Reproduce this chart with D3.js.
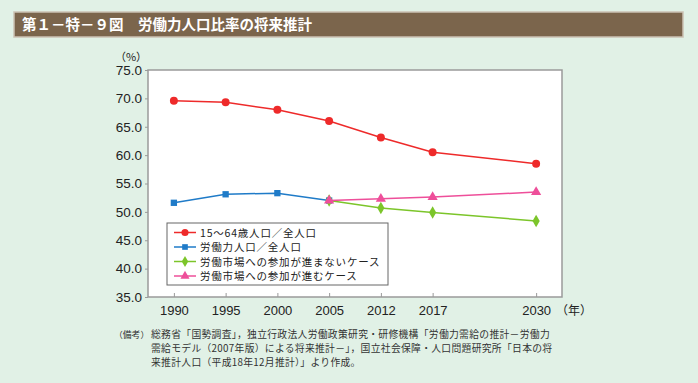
<!DOCTYPE html>
<html>
<head>
<meta charset="utf-8">
<script src="https://cdn.jsdelivr.net/npm/d3@7"></script>
<style>
  body { margin: 0; background: #e1f1e6; }
  svg { display: block; font-family: "Noto Sans CJK JP", sans-serif; }
</style>
</head>
<body>
<div id="chart"></div>
<script>
// data
const years = ["1990", "1995", "2000", "2005", "2012", "2017", "gap", "2030"];
const tickYears = ["1990", "1995", "2000", "2005", "2012", "2017", "2030"];
const yTicks = [35, 40, 45, 50, 55, 60, 65, 70, 75];

const workingAge = [
  ["1990", 69.6], ["1995", 69.3], ["2000", 68.0], ["2005", 66.0],
  ["2012", 63.1], ["2017", 60.5], ["2030", 58.5]
];
const laborForce = [["1990", 51.6], ["1995", 53.1], ["2000", 53.3], ["2005", 52.0]];
const noParticipation = [["2005", 52.0], ["2012", 50.7], ["2017", 49.9], ["2030", 48.4]];
const withParticipation = [["2005", 52.0], ["2012", 52.3], ["2017", 52.6], ["2030", 53.5]];

const seriesNames = [
  "15～64歳人口／全人口",
  "労働力人口／全人口",
  "労働市場への参加が進まないケース",
  "労働市場への参加が進むケース"
];

const notes = [
  "総務省「国勢調査」，独立行政法人労働政策研究・研修機構「労働力需給の推計－労働力",
  "需給モデル（2007年版）による将来推計－」，国立社会保障・人口問題研究所「日本の将",
  "来推計人口（平成18年12月推計）」より作成。"
];

const width = 698, height = 383;
const svg = d3.select("#chart").append("svg").attr("width", width).attr("height", height);

// title bar
svg.append("rect").attr("x", 14).attr("y", 12).attr("width", 669).attr("height", 25)
  .attr("fill", "#7b654c").attr("stroke", "#cbc2b4").attr("stroke-width", 1.5);
svg.append("text").attr("x", 22).attr("y", 30).attr("fill", "#fff")
  .attr("font-size", 14.5).attr("font-weight", "bold")
  .text("第１－特－９図　労働力人口比率の将来推計");

const plotLeft = 148, plotRight = 562, plotTop = 70, plotBottom = 297;

const x = d3.scalePoint().domain(years).range([plotLeft, plotRight]).padding(0.5);
const y = d3.scaleLinear().domain([35, 75]).range([plotBottom, plotTop]);

svg.append("rect").attr("x", plotLeft).attr("y", plotTop)
  .attr("width", plotRight - plotLeft).attr("height", plotBottom - plotTop)
  .attr("fill", "#fff").attr("stroke", "#9a9a9a").attr("stroke-width", 1.5);

const xAxis = svg.append("g").attr("transform", `translate(0,${plotBottom})`)
  .call(d3.axisBottom(x).tickValues(tickYears).tickSizeInner(-4).tickSizeOuter(0).tickPadding(9));
xAxis.select(".domain").remove();
xAxis.selectAll("line").attr("stroke", "#9a9a9a");
xAxis.selectAll("text").attr("font-family", "Liberation Sans, Arial, sans-serif")
  .attr("font-size", 13).attr("fill", "#222");

const yAxis = svg.append("g").attr("transform", `translate(${plotLeft},0)`)
  .call(d3.axisLeft(y).tickValues(yTicks).tickFormat(d3.format(".1f")).tickSize(3).tickPadding(3));
yAxis.select(".domain").remove();
yAxis.selectAll("line").attr("stroke", "#9a9a9a");
yAxis.selectAll("text").attr("font-family", "Liberation Sans, Arial, sans-serif")
  .attr("font-size", 13.5).attr("fill", "#222");

svg.append("text").attr("x", 131).attr("y", 61).attr("text-anchor", "middle")
  .attr("font-size", 11).attr("fill", "#222").text("（%）");
svg.append("text").attr("x", 556).attr("y", 315).attr("font-size", 12).attr("fill", "#222").text("（年）");

const line = d3.line().x(d => x(d[0])).y(d => y(d[1]));

const styles = [
  { data: workingAge, color: "#ee2a2a", shape: d3.symbolCircle, size: 50 },
  { data: laborForce, color: "#1f7bc8", shape: d3.symbolSquare, size: 40 },
  { data: noParticipation, color: "#7cc52a", shape: d3.symbolDiamond, size: 45 },
  { data: withParticipation, color: "#ee4f9a", shape: d3.symbolTriangle, size: 45 }
];

// blue first, then the two projections, red on top
[1, 2, 3, 0].forEach(i => {
  const s = styles[i];
  svg.append("path").datum(s.data).attr("d", line)
    .attr("fill", "none").attr("stroke", s.color).attr("stroke-width", 1.5);
  svg.selectAll(null).data(s.data).enter().append("path")
    .attr("d", d3.symbol(s.shape, s.size))
    .attr("transform", d => `translate(${x(d[0])},${y(d[1])})`)
    .attr("fill", s.color);
});

// legend
const legend = svg.append("g").attr("transform", "translate(167,223)");
legend.append("rect").attr("width", 221).attr("height", 62)
  .attr("fill", "#fff").attr("stroke", "#666").attr("stroke-width", 1);
styles.forEach((s, i) => {
  const ly = 9.5 + i * 14.5;
  legend.append("line").attr("x1", 7).attr("x2", 29).attr("y1", ly).attr("y2", ly)
    .attr("stroke", s.color).attr("stroke-width", 1.5);
  legend.append("path").attr("d", d3.symbol(s.shape, s.size * 0.8))
    .attr("transform", `translate(18,${ly})`).attr("fill", s.color);
  legend.append("text").attr("x", 33).attr("y", ly + 4)
    .attr("font-size", 10.5).attr("letter-spacing", 0.8)
    .attr("fill", "#222").text(seriesNames[i]);
});

// notes
svg.append("text").attr("x", 114).attr("y", 338).attr("font-size", 8.8)
  .attr("fill", "#333").text("（備考）");
notes.forEach((t, i) => {
  svg.append("text").attr("x", 151).attr("y", 338 + i * 14.2).attr("font-size", 9.8)
    .attr("letter-spacing", 0.3).attr("fill", "#333").text(t);
});
</script>
</body>
</html>
